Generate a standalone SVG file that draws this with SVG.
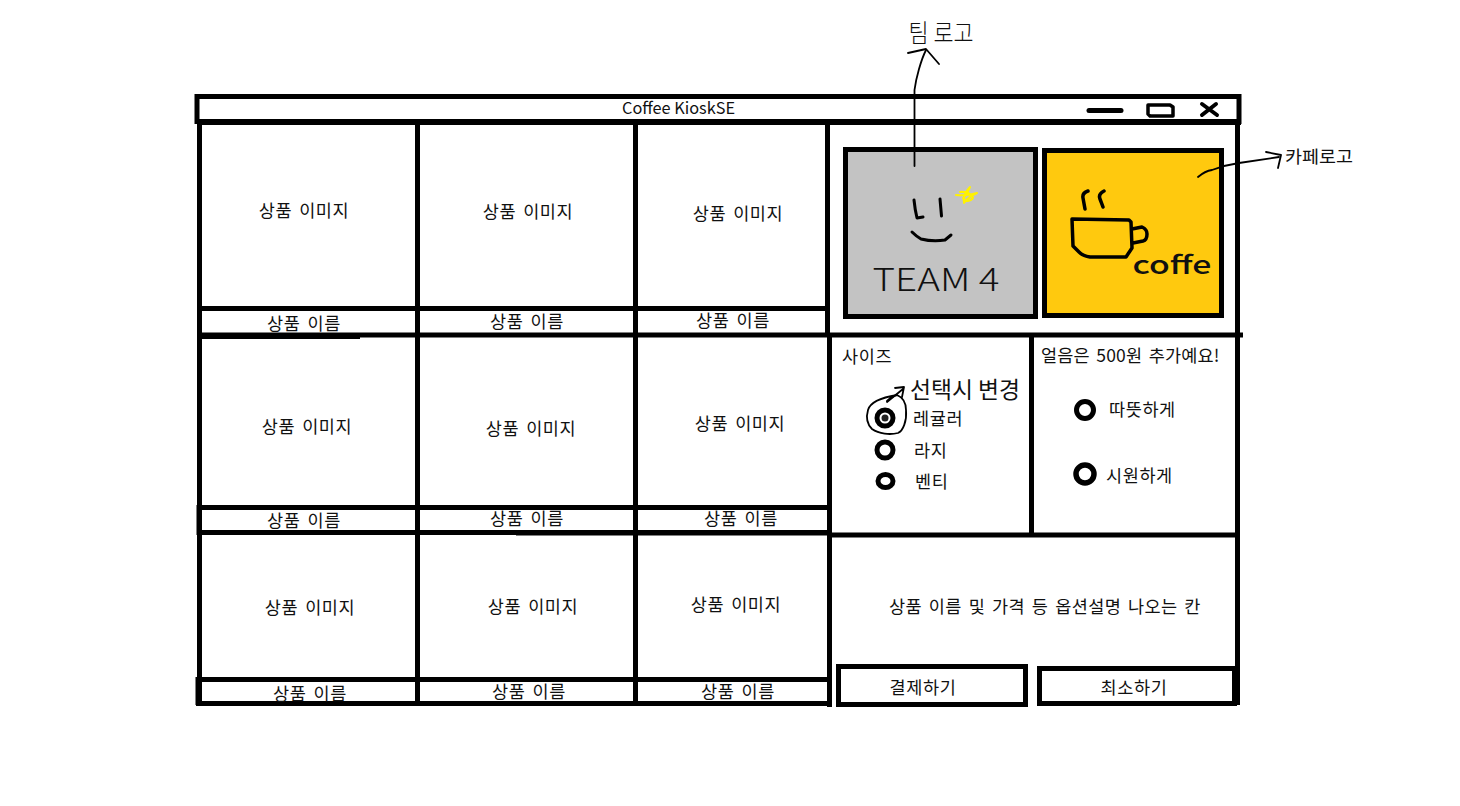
<svg xmlns="http://www.w3.org/2000/svg" width="1460" height="806" viewBox="0 0 1460 806">
<style>
text{font-family:"Noto Sans CJK KR","Noto Sans",sans-serif;fill:#111;text-anchor:middle;dominant-baseline:central}
.l{font-size:17.500px;letter-spacing:.6px;word-spacing:2.500px}
.k{font-size:17.500px;letter-spacing:.6px;word-spacing:2.500px;text-anchor:start}
.b{stroke:#000;stroke-width:5;fill:none}
.p{stroke:#000;fill:none;stroke-linecap:round;stroke-linejoin:round}
.r{stroke:#000;fill:#fff}
</style>
<rect width="1460" height="806" fill="#fff"/>
<g id="frame" class="b">
<rect x="197" y="96.500" width="1042" height="25"/>
<path d="M197 122.500H1241"/>
<path d="M199.500 124V705M417.500 124V705M635.500 124V705M827.500 124V336M829.500 336V707M1237.500 124V705M1031.500 335V537"/>
<path d="M197 308.500H828M197 335H1243M197 507.500H828M197 532.500H829M829 535H1237M197 679.500H829M196 703.500H829"/>
<path d="M199 337.500H360M516 534H829M198 505V535M197 677V705" stroke-width="3"/>
</g>
<g id="title">
<text x="678.500" y="106.500" style="font-size:16.300px">Coffee KioskSE</text>
<path class="p" stroke-width="5" d="M1089 110.500H1121"/>
<path class="p" stroke-width="3.500" d="M1148 105H1170L1173 107V116H1150L1148 114Z"/>
<path class="p" stroke-width="4" d="M1202 104L1217 115M1216 104L1202 115"/>
</g>
<g id="cell-1"><text class="l" x="304" y="209.500">상품 이미지</text><text class="l" x="304" y="322">상품 이름</text></g>
<g id="cell-2"><text class="l" x="528" y="210.500">상품 이미지</text><text class="l" x="527" y="320">상품 이름</text></g>
<g id="cell-3"><text class="l" x="738" y="212.500">상품 이미지</text><text class="l" x="733" y="319">상품 이름</text></g>
<g id="cell-4"><text class="l" x="307" y="425.500">상품 이미지</text><text class="l" x="304" y="519">상품 이름</text></g>
<g id="cell-5"><text class="l" x="531" y="427.500">상품 이미지</text><text class="l" x="527" y="517">상품 이름</text></g>
<g id="cell-6"><text class="l" x="740" y="422.500">상품 이미지</text><text class="l" x="741" y="517">상품 이름</text></g>
<g id="cell-7"><text class="l" x="310" y="606.500">상품 이미지</text><text class="l" x="310" y="692">상품 이름</text></g>
<g id="cell-8"><text class="l" x="533" y="605.500">상품 이미지</text><text class="l" x="529" y="690">상품 이름</text></g>
<g id="cell-9"><text class="l" x="736" y="603.500">상품 이미지</text><text class="l" x="738" y="690">상품 이름</text></g>
<g id="team-logo">
<rect x="845.500" y="149.500" width="190" height="167" fill="#c3c3c3" stroke="#000" stroke-width="5"/>
<path class="p" stroke-width="3" d="M914 200Q915 210 917 218L923 217M940 199L941.500 216M912 232Q916 236 921 239Q933 242 945 240L951 235"/>
<path class="p" stroke-width="2" style="stroke:#fff200" d="M956 195Q967 196 977 193Q968 197 964 203Q962 195 970 187Q966 196 963 198Q968 204 973 198Q970 191 960 192"/>
<text x="936" y="276.500" style="font-size:32px;font-weight:300" textLength="127" lengthAdjust="spacingAndGlyphs">TEAM 4</text>
</g>
<g id="cafe-logo">
<rect x="1044.500" y="150.500" width="177" height="165" fill="#ffc90e" stroke="#000" stroke-width="5"/>
<path class="p" stroke-width="3.500" d="M1072 219L1129 220L1131 222L1132 248L1126 257H1090Q1083 256 1079 252L1073 246ZM1132 229L1142 227Q1147 229 1147 234Q1147 240 1143 241L1133 243M1088 191Q1082 193 1083 198L1085 209M1104 191Q1098 194 1100 199L1103 207"/>
<text x="1172" y="263" style="font-size:25px;font-weight:500" textLength="79" lengthAdjust="spacingAndGlyphs">coffe</text>
</g>
<g id="size-panel">
<text class="k" x="842" y="355">사이즈</text>
<circle class="r" cx="885" cy="418" r="8" stroke-width="5"/><circle cx="885" cy="418" r="3.500" fill="#222"/>
<text class="k" x="913" y="417">레귤러</text>
<circle class="r" cx="885" cy="450" r="8" stroke-width="5"/><text class="k" x="914" y="449.500">라지</text>
<ellipse class="r" cx="885.500" cy="481" rx="7.500" ry="6.500" stroke-width="5"/><text class="k" x="915" y="480">벤티</text>
<text x="965" y="388" style="font-size:23px;font-weight:400" textLength="110" lengthAdjust="spacingAndGlyphs">선택시 변경</text>
</g>
<g id="temp-panel">
<text class="k" x="1041" y="354.500" textLength="179">얼음은 500원 추가예요!</text>
<circle class="r" cx="1085" cy="410" r="8.500" stroke-width="5"/><text class="k" x="1109" y="408">따뜻하게</text>
<circle class="r" cx="1085" cy="474" r="9" stroke-width="5.500"/><text class="k" x="1106" y="474.500">시원하게</text>
</g>
<g id="description"><text class="l" x="1045" y="605.500" textLength="312">상품 이름 및 가격 등 옵션설명 나오는 칸</text></g>
<g id="pay-button"><rect x="838.500" y="666.500" width="187" height="38" fill="#fff" stroke="#000" stroke-width="5"/><text class="l" x="923" y="686.500">결제하기</text></g>
<g id="cancel-button"><rect x="1039.500" y="668.500" width="195" height="35" fill="#fff" stroke="#000" stroke-width="5"/><text class="l" x="1134" y="686">최소하기</text></g>
<g id="notes">
<text x="941" y="31" style="font-size:25px;font-weight:300" textLength="65" lengthAdjust="spacingAndGlyphs">팀 로고</text>
<text x="1319" y="155.500" style="font-size:17px;font-weight:400" textLength="68" lengthAdjust="spacingAndGlyphs">카페로고</text>
</g>
<g id="connectors" class="p" stroke-width="1.800">
<path d="M914.500 166V90C916 78 921 60 926 50"/>
<path d="M908 53L926 49L939 64"/>
<path d="M1198 177Q1205 171 1212 170Q1225 165 1239 163L1279 157"/>
<path d="M1266 152L1281 155L1278 168"/>
<path d="M887 401Q892 396 897 395C904 398 906 403 906 410C907 421 903 431 898 433C890 435 879 434 872 429C867 424 866 417 868 410C870 403 878 398 897 395"/>
<path d="M887 402L903 389M895 388L904 387L902 397"/>
</g>
</svg>
